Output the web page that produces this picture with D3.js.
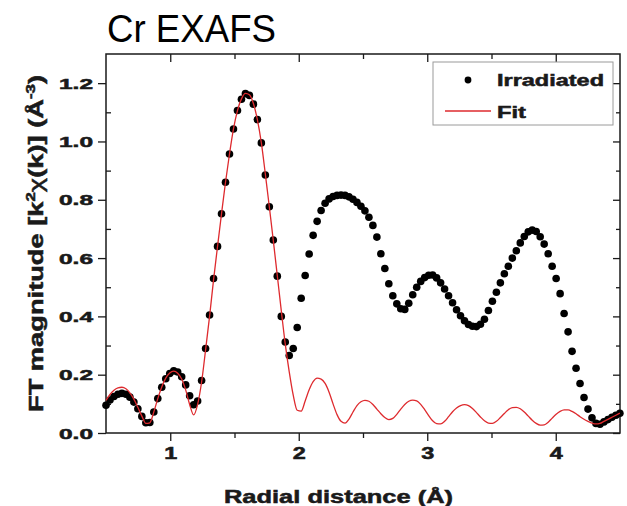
<!DOCTYPE html>
<html>
<head>
<meta charset="utf-8">
<script src="https://cdn.jsdelivr.net/npm/d3@7"></script>
<style>
  body { margin: 0; background: #fff; }
  svg { display: block; }
  text { font-family: "Liberation Sans", Arial, sans-serif; }
  .heavy { stroke: #1a1a1a; stroke-width: 0.55px; }
</style>
</head>
<body>
<div id="chart"></div>
<script>
// Data (R in Angstrom, FT magnitude)
const radial = [
  0.500, 0.531, 0.562, 0.593, 0.624, 0.655, 0.686, 0.717, 0.748, 0.779,
  0.810, 0.841, 0.872, 0.903, 0.934, 0.965, 0.996, 1.027, 1.058, 1.089,
  1.120, 1.151, 1.182, 1.213, 1.244, 1.275, 1.306, 1.337, 1.368, 1.399,
  1.430, 1.461, 1.492, 1.523, 1.554, 1.585, 1.616, 1.647, 1.678, 1.709,
  1.740, 1.771, 1.802, 1.833, 1.864, 1.895, 1.926, 1.957, 1.988, 2.019,
  2.050, 2.081, 2.112, 2.143, 2.174, 2.205, 2.236, 2.267, 2.298, 2.329,
  2.360, 2.391, 2.422, 2.453, 2.484, 2.515, 2.546, 2.577, 2.608, 2.639,
  2.670, 2.701, 2.732, 2.763, 2.794, 2.825, 2.856, 2.887, 2.918, 2.949,
  2.980, 3.011, 3.042, 3.073, 3.104, 3.135, 3.166, 3.197, 3.228, 3.259,
  3.290, 3.321, 3.352, 3.383, 3.414, 3.445, 3.476, 3.507, 3.538, 3.569,
  3.600, 3.631, 3.662, 3.693, 3.724, 3.755, 3.786, 3.817, 3.848, 3.879,
  3.910, 3.941, 3.972, 4.003, 4.034, 4.065, 4.096, 4.127, 4.158, 4.189,
  4.220, 4.251, 4.282, 4.313, 4.344, 4.375, 4.406, 4.437, 4.468, 4.499
];

const irradiated = [
  0.095, 0.113, 0.125, 0.133, 0.136, 0.133, 0.123, 0.106, 0.083, 0.057,
  0.035, 0.036, 0.072, 0.118, 0.157, 0.186, 0.204, 0.213, 0.209, 0.193,
  0.165, 0.128, 0.097, 0.110, 0.180, 0.290, 0.405, 0.530, 0.640, 0.752,
  0.860, 0.957, 1.043, 1.106, 1.145, 1.164, 1.158, 1.128, 1.075, 0.995,
  0.885, 0.776, 0.662, 0.538, 0.400, 0.312, 0.266, 0.290, 0.362, 0.462,
  0.540, 0.614, 0.678, 0.726, 0.763, 0.788, 0.803, 0.811, 0.815, 0.816,
  0.815, 0.810, 0.802, 0.791, 0.778, 0.762, 0.740, 0.712, 0.672, 0.615,
  0.564, 0.512, 0.471, 0.443, 0.426, 0.424, 0.445, 0.474, 0.500, 0.520,
  0.533, 0.541, 0.542, 0.532, 0.515, 0.494, 0.471, 0.447, 0.423, 0.402,
  0.385, 0.372, 0.366, 0.365, 0.373, 0.390, 0.420, 0.452, 0.483, 0.515,
  0.546, 0.572, 0.600, 0.625, 0.652, 0.674, 0.690, 0.696, 0.691, 0.673,
  0.648, 0.615, 0.572, 0.530, 0.478, 0.410, 0.347, 0.280, 0.222, 0.170,
  0.122, 0.082, 0.052, 0.033, 0.030, 0.038, 0.046, 0.054, 0.061, 0.068
];

const fit = [
  0.112, 0.132, 0.147, 0.155, 0.157, 0.152, 0.138, 0.116, 0.088, 0.058,
  0.033, 0.035, 0.072, 0.118, 0.158, 0.188, 0.206, 0.212, 0.205, 0.185,
  0.148, 0.098, 0.062, 0.098, 0.175, 0.285, 0.400, 0.525, 0.640, 0.752,
  0.860, 0.957, 1.043, 1.106, 1.146, 1.165, 1.160, 1.130, 1.075, 0.995,
  0.888, 0.776, 0.660, 0.540, 0.420, 0.305, 0.210, 0.130, 0.078, 0.075,
  0.110, 0.148, 0.176, 0.188, 0.185, 0.170, 0.140, 0.100, 0.063, 0.040,
  0.034, 0.048, 0.072, 0.094, 0.107, 0.112, 0.109, 0.098, 0.082, 0.066,
  0.053, 0.046, 0.050, 0.064, 0.082, 0.098, 0.109, 0.113, 0.110, 0.098,
  0.080, 0.060, 0.042, 0.032, 0.031, 0.040, 0.056, 0.073, 0.086, 0.094,
  0.097, 0.094, 0.084, 0.070, 0.055, 0.042, 0.034, 0.033, 0.040, 0.053,
  0.067, 0.080, 0.087, 0.088, 0.083, 0.072, 0.058, 0.044, 0.033, 0.027,
  0.028, 0.037, 0.051, 0.064, 0.074, 0.079, 0.079, 0.074, 0.066, 0.056,
  0.047, 0.040, 0.034, 0.031, 0.033, 0.040, 0.047, 0.054, 0.061, 0.068
];

const xTicks = [1, 2, 3, 4];
const xMinorTicks = [1.5, 2.5, 3.5];
const yTicks = [0, 0.2, 0.4, 0.6, 0.8, 1.0, 1.2];
const yMinorTicks = [0.1, 0.3, 0.5, 0.7, 0.9, 1.1];
const legendLabels = ["Irradiated", "Fit"];
const titleText = "Cr EXAFS";

// Global context
const ctx = {
  WIDTH: 627,
  HEIGHT: 506,
  LEFT: 106,
  RIGHT: 620,
  TOP: 54,
  BOTTOM: 433,
  svg: null,
  x: null,
  y: null,
  red: "#de2a2e"
};

function createViz() {
  ctx.svg = d3.select("#chart").append("svg")
    .attr("width", ctx.WIDTH)
    .attr("height", ctx.HEIGHT);

  ctx.x = d3.scaleLinear().domain([0.5, 4.5]).range([ctx.LEFT, ctx.RIGHT]);
  ctx.y = d3.scaleLinear().domain([0, 1.3]).range([ctx.BOTTOM, ctx.TOP]);

  drawAxes();
  drawData();
  drawLegend();
  drawLabels();
}

function styleTicks(g) {
  g.select(".domain").remove();
  g.selectAll(".tick line").attr("stroke", "#1a1a1a").attr("stroke-width", 1.3);
}

function drawAxes() {
  const svg = ctx.svg;
  const fmt = d3.format(".1f");

  // left: major out, minor in
  const left = svg.append("g")
    .attr("transform", `translate(${ctx.LEFT},0)`)
    .call(d3.axisLeft(ctx.y).tickValues(yTicks).tickSize(8).tickPadding(5).tickFormat(fmt))
    .call(styleTicks);
  left.selectAll("text")
    .attr("class", "heavy")
    .attr("font-size", 15)
    .attr("font-weight", "bold")
    .attr("fill", "#1a1a1a")
    .attr("dy", "0.34em")
    .attr("textLength", 34)
    .attr("lengthAdjust", "spacingAndGlyphs");
  svg.append("g")
    .attr("transform", `translate(${ctx.LEFT},0)`)
    .call(d3.axisLeft(ctx.y).tickValues(yMinorTicks).tickSize(-5).tickFormat(""))
    .call(styleTicks);

  // bottom
  const bottom = svg.append("g")
    .attr("transform", `translate(0,${ctx.BOTTOM})`)
    .call(d3.axisBottom(ctx.x).tickValues(xTicks).tickSize(8).tickPadding(7).tickFormat(d3.format("d")))
    .call(styleTicks);
  bottom.selectAll("text")
    .attr("class", "heavy")
    .attr("font-size", 16)
    .attr("font-weight", "bold")
    .attr("fill", "#1a1a1a")
    .attr("textLength", 13)
    .attr("lengthAdjust", "spacingAndGlyphs");
  svg.append("g")
    .attr("transform", `translate(0,${ctx.BOTTOM})`)
    .call(d3.axisBottom(ctx.x).tickValues(xMinorTicks).tickSize(5).tickFormat(""))
    .call(styleTicks);

  // top + right mirror ticks, pointing inward
  svg.append("g")
    .attr("transform", `translate(0,${ctx.TOP})`)
    .call(d3.axisTop(ctx.x).tickValues(xTicks).tickSize(-8).tickFormat(""))
    .call(styleTicks);
  svg.append("g")
    .attr("transform", `translate(0,${ctx.TOP})`)
    .call(d3.axisTop(ctx.x).tickValues(xMinorTicks).tickSize(-5).tickFormat(""))
    .call(styleTicks);
  svg.append("g")
    .attr("transform", `translate(${ctx.RIGHT},0)`)
    .call(d3.axisRight(ctx.y).tickValues(yTicks).tickSize(-7).tickFormat(""))
    .call(styleTicks);
  svg.append("g")
    .attr("transform", `translate(${ctx.RIGHT},0)`)
    .call(d3.axisRight(ctx.y).tickValues(yMinorTicks).tickSize(-4).tickFormat(""))
    .call(styleTicks);

  // frame
  svg.append("rect")
    .attr("x", ctx.LEFT)
    .attr("y", ctx.TOP)
    .attr("width", ctx.RIGHT - ctx.LEFT)
    .attr("height", ctx.BOTTOM - ctx.TOP)
    .attr("fill", "none")
    .attr("stroke", "#1a1a1a")
    .attr("stroke-width", 1.5);
}

function drawData() {
  const pts = radial.map((r, i) => ({ r: r, v: irradiated[i], f: fit[i] }));

  ctx.svg.append("g")
    .selectAll("circle")
    .data(pts)
    .enter()
    .append("circle")
    .attr("cx", d => ctx.x(d.r))
    .attr("cy", d => ctx.y(d.v))
    .attr("r", 3.8)
    .attr("fill", "#000");

  const line = d3.line()
    .x(d => ctx.x(d.r))
    .y(d => ctx.y(d.f))
    .curve(d3.curveMonotoneX);

  ctx.svg.append("path")
    .datum(pts)
    .attr("d", line)
    .attr("fill", "none")
    .attr("stroke", ctx.red)
    .attr("stroke-width", 1.3);
}

function drawLegend() {
  const g = ctx.svg.append("g");

  g.append("rect")
    .attr("x", 433).attr("y", 62)
    .attr("width", 180).attr("height", 63)
    .attr("fill", "#fff")
    .attr("stroke", "#9a9a9a")
    .attr("stroke-width", 1);

  g.append("circle")
    .attr("cx", 468).attr("cy", 80)
    .attr("r", 3.4)
    .attr("fill", "#000");

  g.append("line")
    .attr("x1", 445).attr("x2", 491)
    .attr("y1", 111).attr("y2", 111)
    .attr("stroke", ctx.red)
    .attr("stroke-width", 1.3);

  g.selectAll("text.legend")
    .data(legendLabels)
    .enter()
    .append("text")
    .attr("class", "legend heavy")
    .attr("x", 497)
    .attr("y", (d, i) => 86 + i * 32)
    .attr("font-size", 17)
    .attr("font-weight", "bold")
    .attr("fill", "#1a1a1a")
    .attr("textLength", (d, i) => i === 0 ? 107 : 29)
    .attr("lengthAdjust", "spacingAndGlyphs")
    .text(d => d);
}

function drawLabels() {
  const svg = ctx.svg;

  // title, condensed look
  svg.append("text")
    .attr("x", 107)
    .attr("y", 42)
    .attr("font-family", "'Liberation Sans Narrow', 'Arial Narrow', 'Liberation Sans', sans-serif")
    .attr("font-size", 38)
    .attr("fill", "#000")
    .attr("textLength", 169)
    .attr("lengthAdjust", "spacingAndGlyphs")
    .text(titleText);

  // x label
  svg.append("text")
    .attr("class", "heavy")
    .attr("x", 224)
    .attr("y", 503)
    .attr("font-size", 19)
    .attr("font-weight", "bold")
    .attr("fill", "#1a1a1a")
    .attr("textLength", 229)
    .attr("lengthAdjust", "spacingAndGlyphs")
    .text("Radial distance (Å)");

  // y label with superscripts
  const yl = svg.append("text")
    .attr("class", "heavy")
    .attr("transform", "translate(43,243.5) rotate(-90)")
    .attr("text-anchor", "middle")
    .attr("font-size", 21)
    .attr("font-weight", "bold")
    .attr("fill", "#1a1a1a")
    .attr("textLength", 337)
    .attr("lengthAdjust", "spacingAndGlyphs");
  yl.append("tspan").text("FT magnitude [k");
  yl.append("tspan").attr("font-size", 13).attr("dy", -8).text("2");
  yl.append("tspan").attr("dy", 8).attr("font-weight", "normal").text("χ");
  yl.append("tspan").text("(k)] (Å");
  yl.append("tspan").attr("font-size", 13).attr("dy", -8).text("-3");
  yl.append("tspan").attr("dy", 8).text(")");
}

createViz();
</script>
</body>
</html>
